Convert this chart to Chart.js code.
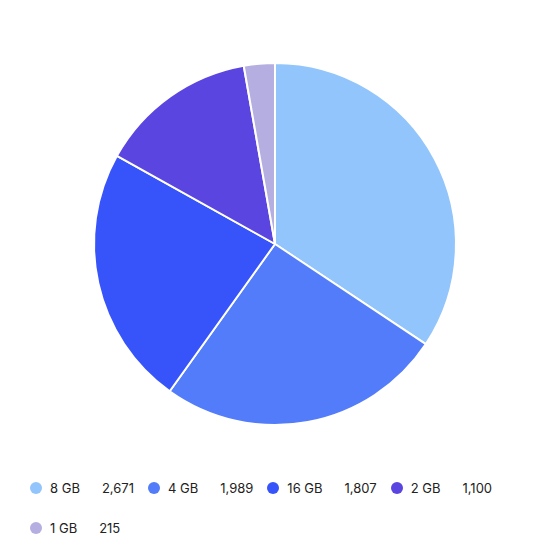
<!DOCTYPE html>
<html>
<head>
<meta charset="utf-8">
<script src="https://cdn.jsdelivr.net/npm/chart.js@4"></script>
<style>
  body { margin: 0; background: #fff; font-family: "Inter", "Noto Sans", sans-serif; }
  #wrap { position: absolute; left: 0; top: 0; width: 550px; height: 430px; }
  #legend { position: absolute; left: 30px; top: 480px; width: 510px; font-size: 13px; color: #222; }
  .item { display: inline-flex; align-items: center; margin: 0 14px 24px 0; }
  .dot { width: 12px; height: 12px; border-radius: 50%; margin-right: 8px; }
  .val { margin-left: 22px; }
</style>
</head>
<body>
<div id="wrap"><canvas id="pie"></canvas></div>
<div id="legend"></div>
<script>
// memory sizes and counts
const labels = ['8 GB', '4 GB', '16 GB', '2 GB', '1 GB'];
const counts = [2671, 1989, 1807, 1100, 215];
const colors = ['#92c5fc', '#527cf9', '#3754fa', '#5a45e0', '#b5aee0'];

new Chart(document.getElementById('pie'), {
  type: 'pie',
  data: {
    labels: labels,
    datasets: [{
      data: counts,
      backgroundColor: colors,
      borderColor: '#fff',
      borderWidth: 2
    }]
  },
  options: {
    responsive: true,
    maintainAspectRatio: false,
    animation: false,
    layout: { padding: { top: 62, bottom: 4 } },
    plugins: { legend: { display: false }, tooltip: { enabled: false } }
  }
});

// legend with values
const legend = document.getElementById('legend');
labels.forEach((l, i) => {
  const item = document.createElement('span');
  item.className = 'item';
  item.innerHTML = `<span class="dot" style="background:${colors[i]}"></span>${l}<span class="val">${counts[i].toLocaleString('en-US')}</span>`;
  legend.appendChild(item);
});
</script>
</body>
</html>
